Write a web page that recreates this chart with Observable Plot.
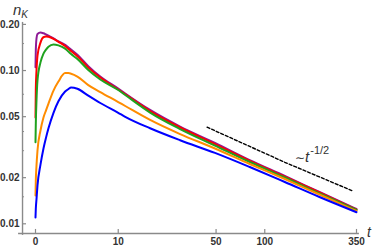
<!DOCTYPE html>
<html><head><meta charset="utf-8">
<script src="https://cdn.jsdelivr.net/npm/d3@7"></script>
<script src="https://cdn.jsdelivr.net/npm/@observablehq/plot@0.6"></script>
<style>body{margin:0;background:#fff} svg{display:block}</style>
</head><body><div id="chart"></div>
<script>
// time samples shared by all curves
const tVals = [0, 0.02, 0.067, 0.134, 0.342, 0.559, 0.75, 0.94, 1.35, 1.78, 2.41, 2.74, 3.02, 3.72, 5.08, 6.82, 10, 11.46, 17.9, 29.1, 49.2, 81, 132, 212, 350];
const purpleVals = [0.105, 0.135, 0.162, 0.173, 0.177, 0.175, 0.172, 0.169, 0.162, 0.155, 0.147, 0.1415, 0.137, 0.127, 0.1069, 0.0914, 0.0763, 0.0708, 0.0553, 0.0431, 0.0337, 0.0260, 0.0205, 0.01612, 0.01249];
const redVals = [0.0494, 0.075, 0.100, 0.125, 0.152, 0.165, 0.167, 0.166, 0.161, 0.154, 0.1445, 0.1385, 0.134, 0.124, 0.1045, 0.0900, 0.0752, 0.0700, 0.0544, 0.0425, 0.0331, 0.0257, 0.0203, 0.0160, 0.01238];
const greenVals = [0.034, 0.045, 0.0637, 0.0861, 0.113, 0.129, 0.137, 0.143, 0.148, 0.146, 0.139, 0.133, 0.128, 0.119, 0.1008, 0.0874, 0.0746, 0.0692, 0.0532, 0.0415, 0.0324, 0.0253, 0.02005, 0.01576, 0.0123];
const orangeVals = [0.0153, 0.019, 0.024, 0.0301, 0.0406, 0.0494, 0.055, 0.0609, 0.074, 0.0848, 0.0962, 0.0962, 0.0953, 0.0914, 0.0804, 0.0724, 0.0623, 0.0587, 0.0476, 0.0385, 0.0310, 0.02455, 0.0196, 0.01553, 0.01212];
const blueVals = [0.0110, 0.0125, 0.0145, 0.0178, 0.0243, 0.031, 0.0365, 0.042, 0.053, 0.063, 0.0729, 0.0757, 0.0775, 0.0760, 0.0685, 0.0614, 0.0530, 0.0499, 0.0420, 0.0351, 0.0290, 0.02346, 0.01874, 0.01496, 0.0119];

const seriesList = [
  {vals: purpleVals, color: "#8e1a96"},
  {vals: redVals, color: "#ff0000"},
  {vals: greenVals, color: "#1fa21f"},
  {vals: orangeVals, color: "#ff8c00"},
  {vals: blueVals, color: "#0000ff"}
];

// guide line ~ t^-1/2
const guideT = [43.8, 132, 336];
const guideV = [0.0427, 0.0252, 0.0163];

const xTicks = [0, 10, 50, 100, 350];
const xTickLabels = ["0", "10", "50", "100", "350"];
const yTicks = [0.01, 0.02, 0.05, 0.1, 0.2];
const yTickLabels = ["0.01", "0.02", "0.05", "0.10", "0.20"];
const yMinor = [0.015, 0.03, 0.04, 0.07, 0.15];

// axis placement (data units)
const xAxisAt = -0.94;     // where the vertical axis crosses
const yAxisAt = 0.00865;   // where the horizontal axis crosses
const xLeft = -1.26, xRight = 364;
const yLow = 0.0084, yTop = 0.206;

const axisColor = "#8a8a8a";
const labelColor = "#333333";
const font = "'Liberation Sans', Arial, sans-serif";

const marks = [
  Plot.ruleY([yAxisAt], {x1: xLeft, x2: xRight, stroke: axisColor, strokeWidth: 1.4}),
  Plot.ruleX([xAxisAt], {y1: yLow, y2: yTop, stroke: axisColor, strokeWidth: 1.4}),
  Plot.ruleX(xTicks, {x: d => d, y1: yAxisAt, y2: yAxisAt * 1.062, stroke: axisColor, strokeWidth: 1.2}),
  Plot.ruleY(yTicks, {y: d => d, x1: xAxisAt, x2: -0.633, stroke: axisColor, strokeWidth: 1.2}),
  Plot.ruleY(yMinor, {y: d => d, x1: xAxisAt, x2: -0.784, stroke: axisColor, strokeWidth: 1}),
  Plot.text(xTicks, {x: d => d, y: yAxisAt, text: (d, i) => xTickLabels[i], dy: 8, fontSize: 10, fontWeight: "bold", fill: labelColor}),
  Plot.text(yTicks, {x: xAxisAt, y: d => d, text: (d, i) => yTickLabels[i], dx: -3, textAnchor: "end", fontSize: 10, fontWeight: "bold", fill: labelColor})
];
for (const s of seriesList) {
  const rows = tVals.map((t, i) => ({t, v: s.vals[i]}));
  marks.push(Plot.line(rows, {x: "t", y: "v", stroke: s.color, strokeWidth: 2, curve: "monotone-x"}));
}
marks.push(Plot.line(guideT.map((t, i) => ({t, v: guideV[i]})), {x: "t", y: "v", stroke: "#000", strokeWidth: 1.4, strokeDasharray: "3,2"}));

const chart = Plot.plot({
  width: 374,
  height: 246,
  style: {fontFamily: font, background: "#fff"},
  x: {type: "symlog", constant: 5, domain: [0, 350], range: [35, 356], axis: null},
  y: {type: "log", domain: [0.01, 0.2], range: [223.3, 23.9], axis: null},
  marks
});
document.getElementById("chart").appendChild(chart);

const svg = d3.select(chart);
const nk = svg.append("text").attr("x", 13).attr("y", 15).attr("fill", labelColor)
  .attr("text-anchor", "start").style("font-family", font);
nk.append("tspan").text("n").attr("font-style", "italic").attr("font-size", 15);
nk.append("tspan").text("K").attr("font-style", "italic").attr("font-size", 10).attr("dy", 2.5);

svg.append("text").attr("x", 367).attr("y", 237).attr("fill", labelColor)
  .attr("text-anchor", "start").attr("font-style", "italic").attr("font-size", 14)
  .style("font-family", font).text("t");

const g = svg.append("text").attr("x", 295).attr("y", 162).attr("fill", labelColor)
  .attr("text-anchor", "start").style("font-family", font);
g.append("tspan").text("\u223C").attr("font-size", 12).style("font-family", "'DejaVu Sans', sans-serif");
g.append("tspan").text("t").attr("font-style", "italic").attr("font-size", 15);
g.append("tspan").text("-1/2").attr("font-size", 11).attr("dy", -8).attr("dx", 1);
</script>
</body></html>
